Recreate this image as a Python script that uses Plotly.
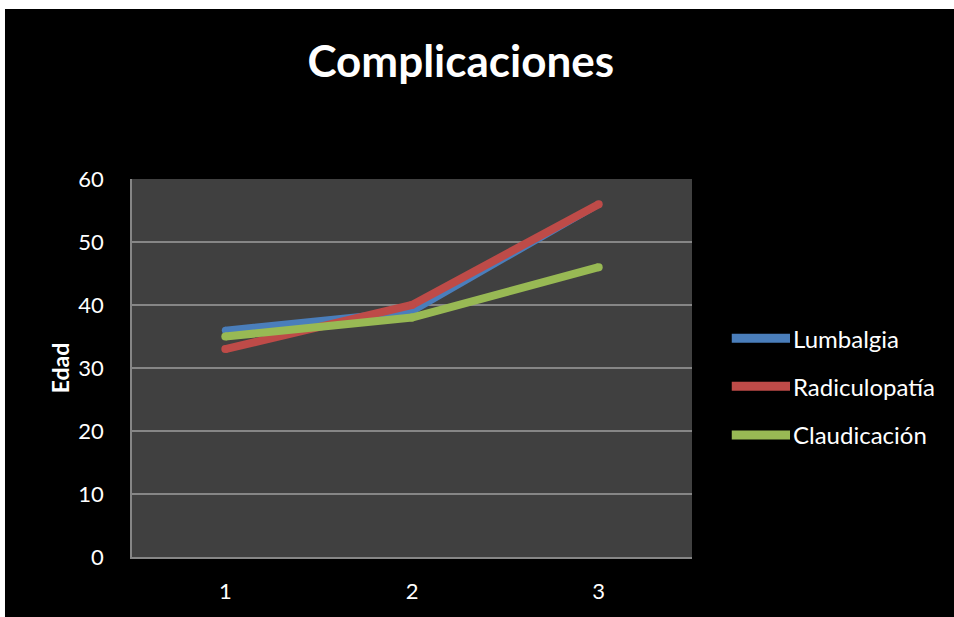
import plotly.graph_objects as go

categories = [1, 2, 3]
series_names = ["Lumbalgia", "Radiculopatía", "Claudicación"]
lumbalgia = [36, 39, 56]
radiculopatia = [33, 40, 56]
claudicacion = [35, 38, 46]
colors = ["#4a7ebb", "#be4b48", "#98b954"]
y_ticks = [0, 10, 20, 30, 40, 50, 60]

FONT = "Lato"
fig = go.Figure()
for name, vals, col, w in zip(series_names, [lumbalgia, radiculopatia, claudicacion], colors, [7, 8, 8]):
    fig.add_trace(go.Scatter(
        x=categories, y=vals, name=name, mode="lines+markers",
        line=dict(color=col, width=w),
        marker=dict(color=col, size=w, line=dict(width=0)),
        showlegend=False,
    ))

# manual legend
leg_y = [0.579, 0.452, 0.323]
for name, col, yy in zip(series_names, colors, leg_y):
    fig.add_shape(type="line", xref="paper", yref="paper", x0=1.071, x1=1.175, y0=yy, y1=yy,
                  line=dict(color=col, width=9))
    fig.add_annotation(xref="paper", yref="paper", x=1.176, y=yy, text=name, showarrow=False,
                       xanchor="left", yanchor="middle", font=dict(color="white", size=24, family=FONT))

# white strips at edges
fig.add_shape(type="rect", xref="paper", yref="paper", x0=-0.25, x1=-0.2268, y0=-0.2, y1=1.5,
              fillcolor="white", line=dict(width=0), layer="above")
fig.add_shape(type="rect", xref="paper", yref="paper", x0=-0.25, x1=1.5, y0=1.4497, y1=1.5,
              fillcolor="white", line=dict(width=0), layer="above")

fig.update_layout(
    width=954, height=617,
    margin=dict(l=132, r=262, t=179, b=60, autoexpand=False),
    paper_bgcolor="black", plot_bgcolor="#404040",
    title=dict(text="<b>Complicaciones</b>", x=0.483, xanchor="center", y=0.9, yanchor="middle",
               font=dict(color="white", size=44, family=FONT)),
    xaxis=dict(range=[0.5, 3.5], tickvals=categories, ticktext=[str(c) for c in categories],
               showgrid=False, zeroline=False, showline=True, linecolor="#868686", linewidth=1.5,
               automargin=False,
               tickfont=dict(color="white", size=22, family=FONT), ticks="", ticklabelstandoff=14),
    yaxis=dict(range=[0, 60], tickvals=y_ticks, showgrid=True, gridcolor="#868686", gridwidth=1.5,
               zeroline=False, showline=True, linecolor="#868686", linewidth=1.5,
               automargin=False,
               tickfont=dict(color="white", size=22, family=FONT), ticks="", ticklen=0,
               ticklabelstandoff=22,
               title=dict(text="<b>Edad</b>", font=dict(color="white", size=23, family=FONT), standoff=2)),
    showlegend=False,
)
fig.write_html("out.html")
